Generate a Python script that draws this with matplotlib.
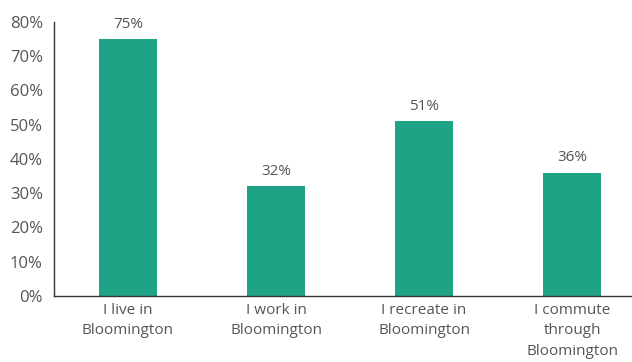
import matplotlib.pyplot as plt
from matplotlib.ticker import PercentFormatter

categories = ["I live in\nBloomington", "I work in\nBloomington",
              "I recreate in\nBloomington", "I commute\nthrough\nBloomington"]
values = [75, 32, 51, 36]
yticks = [0, 10, 20, 30, 40, 50, 60, 70, 80]

plt.rcParams['font.family'] = ['Open Sans', 'DejaVu Sans']
grey = "#555555"

fig = plt.figure(figsize=(6.32, 3.62), dpi=100)
ax = fig.add_axes([0.0854, 0.1823, 0.9146, 0.757])

x = range(len(categories))
bars = ax.bar(x, values, width=0.39, color="#1fa386")

for b, v in zip(bars, values):
    ax.text(b.get_x() + b.get_width() / 2, v + 2.2, f"{v}%",
            ha="center", va="bottom", fontsize=11, color=grey)

ax.set_xlim(-0.5, 3.405)
ax.set_ylim(0, 80)
ax.set_yticks(yticks)
ax.yaxis.set_major_formatter(PercentFormatter(decimals=0))
ax.set_xticks(list(x))
ax.set_xticklabels(categories, linespacing=1.5)

ax.tick_params(axis="both", length=0, labelcolor=grey)
ax.tick_params(axis="y", pad=8, labelsize=12)
ax.tick_params(axis="x", pad=5, labelsize=11)
for s in ["top", "right"]:
    ax.spines[s].set_visible(False)
for s in ["left", "bottom"]:
    ax.spines[s].set_color("#333333")
    ax.spines[s].set_linewidth(1.0)

fig.savefig("out.png", dpi=100)
